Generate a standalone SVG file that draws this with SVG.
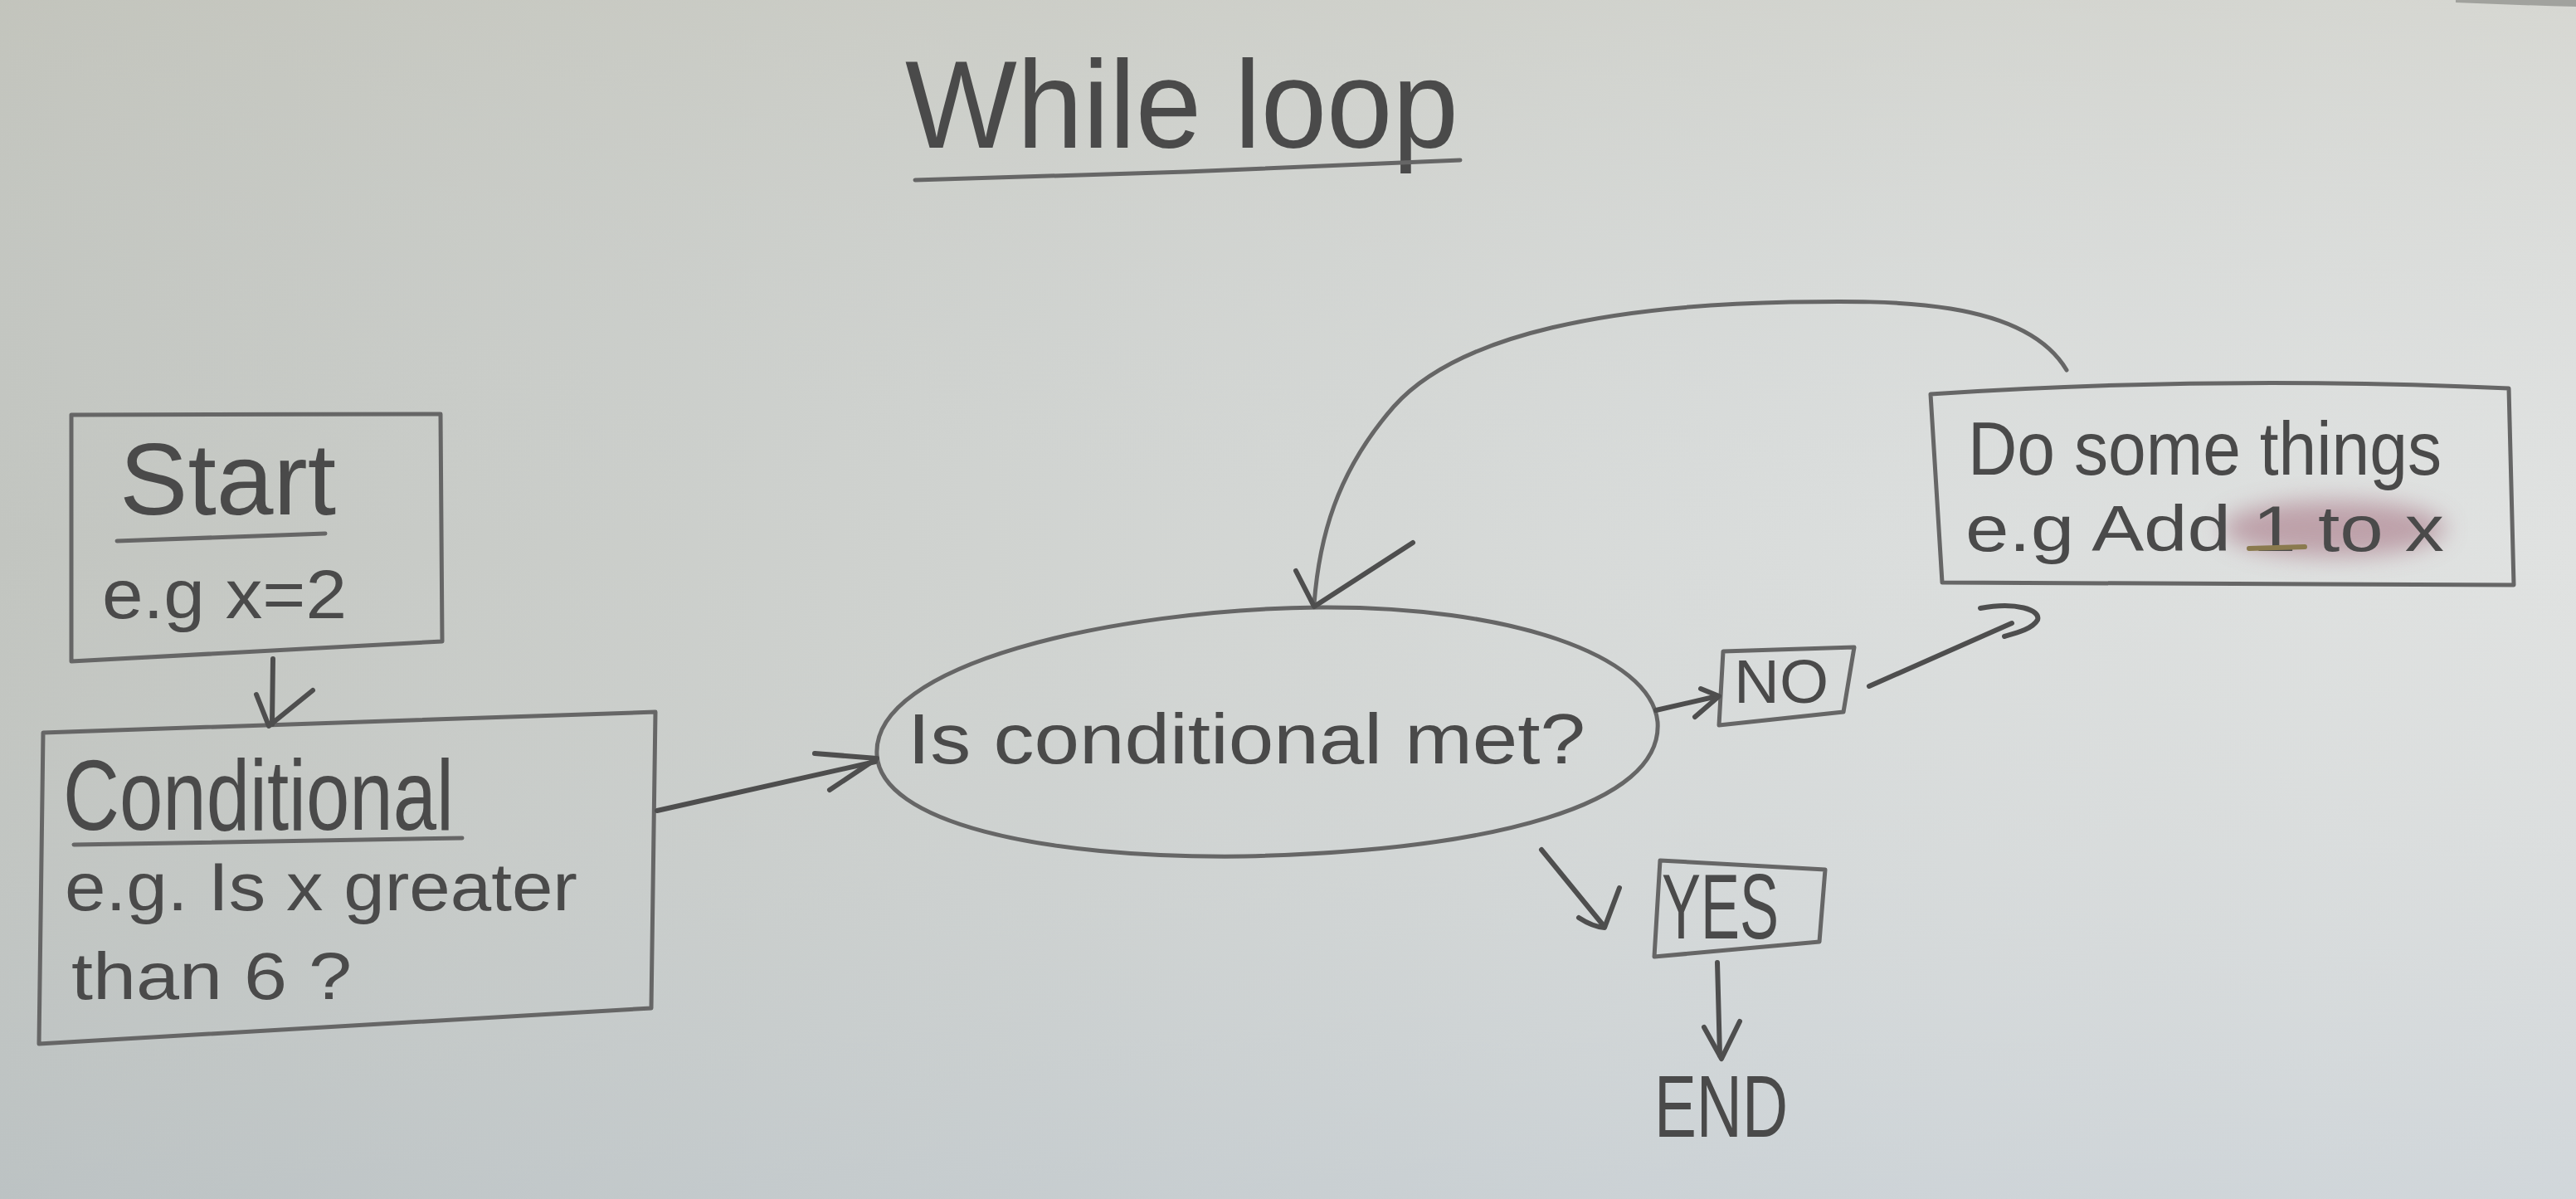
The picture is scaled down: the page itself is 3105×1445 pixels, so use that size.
<svg xmlns="http://www.w3.org/2000/svg" width="3105" height="1445" viewBox="0 0 3105 1445">
<defs>
<linearGradient id="bgH" x1="0" y1="0" x2="1" y2="0">
<stop offset="0" stop-color="#c2c5c0"/>
<stop offset="0.35" stop-color="#cfd2cf"/>
<stop offset="0.7" stop-color="#dadddc"/>
<stop offset="1" stop-color="#e0e2e1"/>
</linearGradient>
<linearGradient id="bgV" x1="0" y1="0" x2="0" y2="1">
<stop offset="0" stop-color="#c4c3b6" stop-opacity="0.35"/>
<stop offset="0.45" stop-color="#d0d4d4" stop-opacity="0"/>
<stop offset="1" stop-color="#aebccb" stop-opacity="0.3"/>
</linearGradient>
<filter id="blur" x="-30%" y="-60%" width="160%" height="220%">
<feGaussianBlur stdDeviation="14"/>
</filter>
<style>
.ln{fill:none;stroke:#666666;stroke-width:5;stroke-linecap:round;stroke-linejoin:round}
.ar{fill:none;stroke:#4e4e4e;stroke-width:6;stroke-linecap:round;stroke-linejoin:round}
.tx{font-family:"Liberation Sans","DejaVu Sans",sans-serif;fill:#4a4a4a}
</style>
</defs>
<rect width="3105" height="1445" fill="url(#bgH)"/>
<rect width="3105" height="1445" fill="url(#bgV)"/>
<path d="M2960 0 L3105 0 L3105 8 Q3030 6 2960 3 Z" fill="#8a8c88" opacity="0.7"/>

<g id="title">
<text class="tx" x="1091" y="178" font-size="150" textLength="667" lengthAdjust="spacingAndGlyphs">While  loop</text>
<path class="ln" d="M1103 217 L1430 207 L1760 193" stroke-width="6"/>
</g>

<g id="start">
<path class="ln" d="M86 500 L531 499 L533 773 L86 797 Z"/>
<text class="tx" x="144" y="620" font-size="122" textLength="261" lengthAdjust="spacingAndGlyphs">Start</text>
<path class="ln" d="M141 652 L392 643" stroke-width="6"/>
<text class="tx" x="123" y="745" font-size="84" textLength="295" lengthAdjust="spacingAndGlyphs">e.g  x=2</text>
</g>

<g id="conditional">
<path class="ln" d="M52 883 L790 858 L785 1215 L47 1258 Z"/>
<text class="tx" x="76" y="1000" font-size="120" textLength="471" lengthAdjust="spacingAndGlyphs">Conditional</text>
<path class="ln" d="M89 1018 L557 1010" stroke-width="6"/>
<text class="tx" x="78" y="1097" font-size="81" textLength="618" lengthAdjust="spacingAndGlyphs">e.g. Is x greater</text>
<text class="tx" x="86" y="1204" font-size="80" textLength="338" lengthAdjust="spacingAndGlyphs">than 6 ?</text>
</g>

<g id="decision">
<path class="ln" d="M1057 910 C1050 800 1340 735 1589 732 C1820 730 1990 790 1998 870 C2005 970 1800 1025 1500 1032 C1250 1035 1062 990 1057 910 Z"/>
<text class="tx" x="1094" y="920" font-size="86" textLength="817" lengthAdjust="spacingAndGlyphs">Is  conditional met?</text>
</g>

<g id="no">
<path class="ln" d="M2077 785 L2235 780 L2222 858 L2072 874 Z"/>
<text class="tx" x="2090" y="847" font-size="74" textLength="114" lengthAdjust="spacingAndGlyphs">NO</text>
</g>

<g id="dothings">
<path class="ln" d="M2327 475 Q2675 452 3024 468 L3030 705 L2341 702 Z"/>
<ellipse cx="2813" cy="637" rx="135" ry="34" fill="#b38c98" opacity="0.75" filter="url(#blur)"/>
<text class="tx" x="2372" y="572" font-size="90" textLength="571" lengthAdjust="spacingAndGlyphs">Do some things</text>
<text class="tx" x="2369" y="664" font-size="78" textLength="577" lengthAdjust="spacingAndGlyphs">e.g Add 1 to x</text>
<path d="M2711 661 L2778 659" fill="none" stroke="#8a7a4e" stroke-width="6" stroke-linecap="round"/>
</g>

<g id="yes">
<path class="ln" d="M2001 1037 L2200 1048 L2193 1135 L1994 1153 Z"/>
<text class="tx" x="2003" y="1131" font-size="112" textLength="141" lengthAdjust="spacingAndGlyphs">YES</text>
</g>

<g id="end">
<text class="tx" x="1994" y="1370" font-size="106" textLength="161" lengthAdjust="spacingAndGlyphs">END</text>
</g>

<g id="connectors">
<path class="ar" d="M329 794 L328 873"/>
<path class="ar" d="M309 837 L324 875 L377 832"/>
<path class="ar" d="M792 977 L1055 918" stroke-width="7"/>
<path class="ar" d="M982 908 L1057 914 L1000 952"/>
<path class="ln" d="M2491 446 C2440 360 2280 362 2158 364 C1950 368 1760 400 1680 490 C1610 570 1590 650 1584 728"/>
<path class="ar" d="M1562 688 L1584 731 L1703 654" stroke-width="7"/>
<path class="ar" d="M1996 856 L2070 839"/>
<path class="ar" d="M2050 830 L2072 839 L2043 864"/>
<path class="ar" d="M2253 827 L2425 751" stroke-width="7"/>
<path class="ar" d="M2387 733 C2430 725 2460 735 2456 747 C2450 758 2430 763 2416 767"/>
<path class="ar" d="M1858 1024 L1934 1117"/>
<path class="ar" d="M1903 1106 Q1920 1117 1934 1118 L1952 1070"/>
<path class="ar" d="M2070 1160 L2073 1272"/>
<path class="ar" d="M2054 1238 L2075 1276 L2097 1231"/>
</g>
</svg>
